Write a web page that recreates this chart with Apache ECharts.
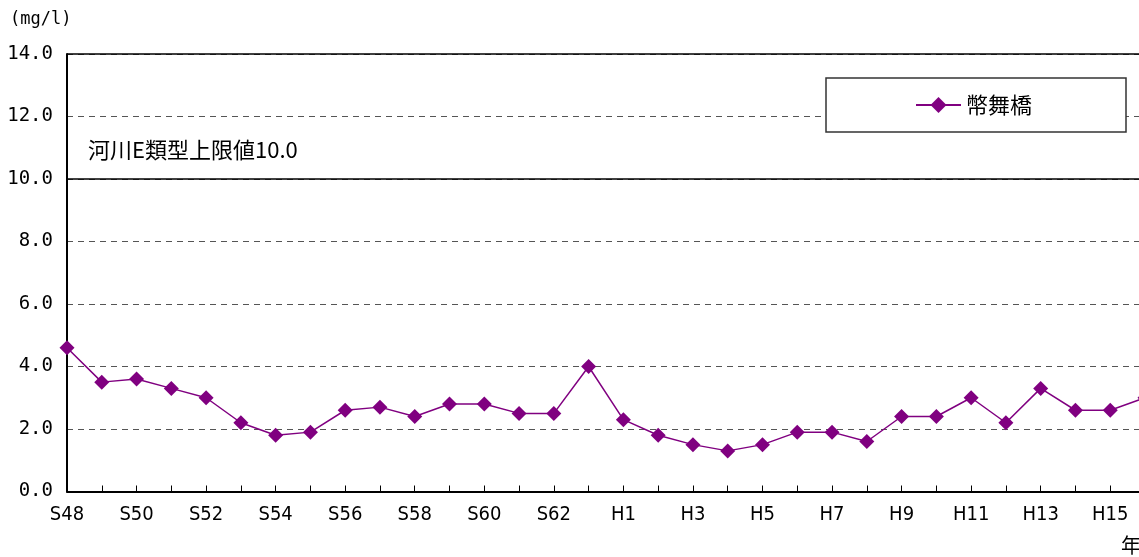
<!DOCTYPE html>
<html>
<head>
<meta charset="utf-8">
<style>
  html, body { margin: 0; padding: 0; background: #fff; overflow: hidden; }
  #chart { width: 1150px; height: 557px; }
</style>
<script src="https://cdn.jsdelivr.net/npm/echarts@6/dist/echarts.min.js"></script>
</head>
<body>
<div id="chart"></div>
<script>
// 年度 (昭和48年〜平成16年)
const years = [
  'S48', 'S49', 'S50', 'S51', 'S52', 'S53', 'S54', 'S55',
  'S56', 'S57', 'S58', 'S59', 'S60', 'S61', 'S62', 'S63',
  'H1', 'H2', 'H3', 'H4', 'H5', 'H6', 'H7', 'H8',
  'H9', 'H10', 'H11', 'H12', 'H13', 'H14', 'H15', 'H16'
];
// 幣舞橋 の測定値 (mg/l)
const nusamaiValues = [
  4.6, 3.5, 3.6, 3.3, 3.0, 2.2, 1.8, 1.9,
  2.6, 2.7, 2.4, 2.8, 2.8, 2.5, 2.5, 4.0,
  2.3, 1.8, 1.5, 1.3, 1.5, 1.9, 1.9, 1.6,
  2.4, 2.4, 3.0, 2.2, 3.3, 2.6, 2.6, 3.0
];
const seriesName = '幣舞橋';
const limitValue = 10.0;
const limitLabel = '河川E類型上限値10.0';
const unitLabel = '(mg/l)';
const xAxisTitle = '年';

const cjkFont = "'Noto Sans CJK JP', sans-serif";
const monoFont = "'DejaVu Sans Mono', monospace";
const narrowFont = "'DejaVu Sans Condensed', sans-serif";

const chart = echarts.init(document.getElementById('chart'), null, { renderer: 'canvas' });

chart.setOption({
  animation: false,
  backgroundColor: '#ffffff',
  grid: { left: 67, top: 54, width: 1078, height: 437.5, containLabel: false },
  legend: {
    data: [seriesName],
    left: 826,
    top: 78,
    padding: [16, 94, 16, 89],
    itemWidth: 45,
    itemHeight: 20,
    backgroundColor: '#ffffff',
    borderColor: '#333333',
    borderWidth: 1.5,
    textStyle: { fontFamily: cjkFont, fontSize: 22, color: '#000' },
    selectedMode: false
  },
  xAxis: {
    type: 'category',
    data: years,
    boundaryGap: false,
    axisLine: { lineStyle: { color: '#000', width: 2 } },
    axisTick: { show: true, inside: true, length: 6, interval: 0, lineStyle: { color: '#000', width: 1 } },
    axisLabel: { interval: 1, margin: 13, fontFamily: narrowFont, fontSize: 20, color: '#000' },
    splitLine: { show: false }
  },
  yAxis: {
    type: 'value',
    min: 0,
    max: 14,
    interval: 2,
    axisLine: { show: true, lineStyle: { color: '#000', width: 2 } },
    axisTick: { show: false },
    axisLabel: {
      margin: 14,
      fontFamily: monoFont,
      fontSize: 19,
      color: '#000',
      formatter: v => v.toFixed(1)
    },
    splitLine: { show: true, lineStyle: { color: '#555', type: [6, 5], width: 1 } }
  },
  series: [{
    name: seriesName,
    type: 'line',
    data: nusamaiValues,
    color: '#800080',
    lineStyle: { color: '#800080', width: 1.5 },
    itemStyle: { color: '#800080' },
    symbol: 'diamond',
    symbolSize: 15,
    showSymbol: true,
    clip: false,
    emphasis: { disabled: true },
    markLine: {
      silent: true,
      symbol: 'none',
      label: { show: false },
      lineStyle: { color: '#000', type: 'solid', width: 1.5 },
      data: [{ yAxis: limitValue }, { yAxis: 14 }]
    },
    z: 3
  }],
  graphic: [
    {
      type: 'text', left: 10, top: 11,
      style: { text: unitLabel, font: '17px ' + monoFont, fill: '#000' }
    },
    {
      type: 'text', left: 88, top: 139,
      style: { text: limitLabel, font: '22px ' + cjkFont, fill: '#000' }
    },
    {
      type: 'text', left: 1121, top: 535,
      style: { text: xAxisTitle, font: '20px ' + cjkFont, fill: '#000' }
    }
  ]
});
</script>
</body>
</html>
